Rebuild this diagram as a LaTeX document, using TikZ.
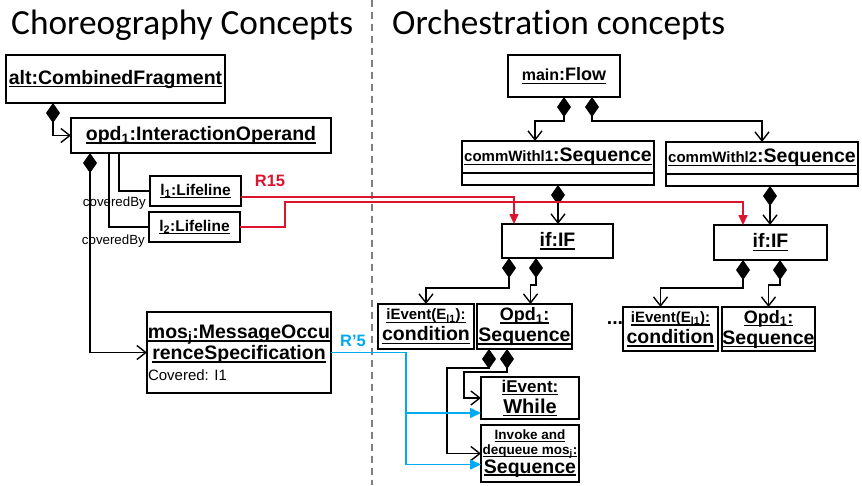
\documentclass[tikz,border=0pt]{standalone}
\usepackage{fontspec}
\setmainfont{Liberation Sans}
\newfontfamily\titlefont[Ligatures=NoCommon]{Carlito}
\usetikzlibrary{arrows.meta,positioning}
\definecolor{rdline}{RGB}{220,20,45}
\definecolor{blline}{RGB}{0,170,240}
\newsavebox\ulbox
\newcommand\uln[1]{\sbox\ulbox{#1}\leavevmode\rlap{\rule[-0.17em]{\wd\ulbox}{0.08em}}\usebox\ulbox}
\newcommand\lgf{\fontsize{19.5}{21}\selectfont}
\newcommand\smf{\fontsize{15}{21}\selectfont}
\begin{document}
\begin{tikzpicture}[x=1pt, y=-1pt, line join=miter,
	obj/.style={draw, line width=1.5pt, inner sep=0pt, outer sep=0pt, align=center, font=\lgf\bfseries},
	comp/.style={line width=1.4pt, {Diamond[length=20pt,width=14pt]}-{Straight Barb[length=9pt,width=14pt]}},
	plain/.style={line width=1.4pt},
	rd/.style={draw=rdline, line width=1.6pt, -{Triangle[length=10pt,width=9pt]}},
	bl/.style={draw=blline, line width=1.6pt, -{Triangle[length=11pt,width=10pt]}},
	lab/.style={inner sep=0pt, font=\fontsize{13.3}{14}\selectfont},
	ttl/.style={inner sep=0pt, anchor=base west, font=\titlefont\fontsize{35.3}{36}\selectfont}]
	\useasboundingbox (0,0) rectangle (862,485);
	\draw[gray, line width=1.2pt, dash pattern=on 7pt off 5pt] (372,0) -- (372,485);
	\node[ttl] (chor) at (11,34) {Choreography Concepts};
	\node[ttl] (orch) at (392,34) {Orchestration concepts};
	% choreography side
	\node[obj, minimum width=219, minimum height=48] (alt) at (115.5,79) {\uln{alt:CombinedFragment}};
	\node[obj, minimum width=260, minimum height=35] (opd) at (201,135.5) {\uln{opd\textsubscript{1}:InteractionOperand}};
	\node[obj, minimum width=91, minimum height=30, font=\fontsize{15.5}{17}\selectfont\bfseries] (l1) at (195.5,191) {\uln{l\textsubscript{1}:Lifeline}};
	\node[obj, minimum width=91, minimum height=30, font=\fontsize{15.5}{17}\selectfont\bfseries] (l2) at (194.5,227) {\uln{l\textsubscript{2}:Lifeline}};
	\node[obj, minimum width=184, minimum height=81] (mos) at (239,352.5) {\uln{mos\textsubscript{j}:MessageOccu}\\\uln{renceSpecification}\\\makebox[182pt][l]{\mdseries\fontsize{15}{21}\selectfont Covered: I1}};
	\node[lab, anchor=east] (cv1) at ([xshift=-4,yshift=3]l1.south west) {coveredBy};
	\node[lab, anchor=east] (cv2) at ([xshift=-4,yshift=1]l2.south west) {coveredBy};
	\draw[comp] ([xshift=47]alt.south west) |- (opd.west);
	\draw[comp] ([xshift=19]opd.south west) |- (mos.west);
	\draw[plain] ([xshift=48]opd.south west) |- (l1.west);
	\draw[plain] ([xshift=38]opd.south west) |- (l2.west);
	% orchestration side
	\node[obj, minimum width=112, minimum height=42, font=\fontsize{18}{21}\selectfont\bfseries] (main) at (564,76) {\uln{{\fontsize{16}{21}\selectfont main}:Flow}};
	\node[obj, minimum width=192, minimum height=32] (cw1) at (558,157) {\uln{{\smf commWithl1}:Sequence}};
	\node[obj, minimum width=192, minimum height=12, below=0pt of cw1] (cw1b) {};
	\node[obj, minimum width=192, minimum height=32] (cw2) at (762,158) {\uln{{\smf commWithl2}:Sequence}};
	\node[obj, minimum width=192, minimum height=12, below=0pt of cw2] (cw2b) {};
	\node[obj, minimum width=111, minimum height=34] (if1) at (557.5,241) {\uln{if:IF}};
	\node[obj, minimum width=113, minimum height=35] (if2) at (770.5,242.5) {\uln{if:IF}};
	\node[obj, minimum width=96, minimum height=45] (cond1) at (426,326.5) {\uln{\smf iEvent(E\textsubscript{l1}):}\\\uln{condition}};
	\node[obj, minimum width=95, minimum height=45] (opdA) at (524.5,326.5) {\uln{\fontsize{18}{21}\selectfont Opd\textsubscript{1}:}\\\uln{Sequence}};
	\node[obj, minimum width=95, minimum height=44] (cond2) at (670.5,329) {\uln{\smf iEvent(E\textsubscript{l1}):}\\\uln{condition}};
	\node[obj, minimum width=93, minimum height=44] (opdB) at (768.5,329) {\uln{\fontsize{18}{21}\selectfont Opd\textsubscript{1}:}\\\uln{Sequence}};
	\node[font=\lgf\bfseries, inner sep=0pt, anchor=base] (dots) at (615,324) {...};
	\node[obj, minimum width=98, minimum height=42] (while) at (530,398) {\uln{\fontsize{17}{21}\selectfont iEvent:}\\\uln{\fontsize{20}{21}\selectfont While}};
	\node[obj, minimum width=98, minimum height=57, font=\fontsize{13.5}{15}\selectfont\bfseries] (invoke) at (530,453.5) {\uln{Invoke and}\\\uln{dequeue mos\textsubscript{j}:}\\\uln{\lgf Sequence}};
	\draw[comp] ([xshift=56]main.south west) -- ++(0,24) -| ([xshift=73]cw1.north west);
	\draw[comp] ([xshift=84]main.south west) -- ++(0,24) -| (cw2.north);
	\draw[comp] (cw1b.south) -- (cw1b.south |- if1.north);
	\draw[comp] ([xshift=8]cw2b.south) -- ([xshift=8]cw2b.south |- if2.north);
	\draw[comp] ([xshift=7]if1.south west) -- ++(0,30) -| (cond1.north);
	\draw[comp] ([xshift=34]if1.south west) -- ++(0,27) -| ([xshift=6]opdA.north);
	\draw[comp] ([xshift=29]if2.south west) -- ++(0,28) -| ([xshift=-10]cond2.north);
	\draw[comp] ([xshift=66]if2.south west) -- ++(0,25) -| (opdB.north);
	\draw[comp] ([xshift=12]opdA.south west) -- ++(0,19) -- ++(-42,0) |- (invoke.west);
	\draw[comp] ([xshift=30]opdA.south west) -- ++(0,23) -- ++(-43,0) |- (while.west);
	% mappings
	\node[inner sep=0pt, text=rdline, font=\fontsize{16.5}{17}\selectfont\bfseries] (r15) at (270,181) {R15};
	\node[inner sep=0pt, text=blline, font=\fontsize{16.5}{17}\selectfont\bfseries] (r5) at (353,341) {R’5};
	\draw[rd] ([yshift=-6]l1.east) -| ([xshift=12]if1.north west);
	\draw[rd] (l2.east) -- ++(45,0) -- ++(0,-25) -| ([xshift=29]if2.north west);
	\coordinate (bj) at ([xshift=75]mos.east);
	\draw[bl] (mos.east) -- (bj) |- ([yshift=-11]invoke.west);
	\draw[bl] (bj) |- ([yshift=-15]while.west);
\end{tikzpicture}
\end{document}
